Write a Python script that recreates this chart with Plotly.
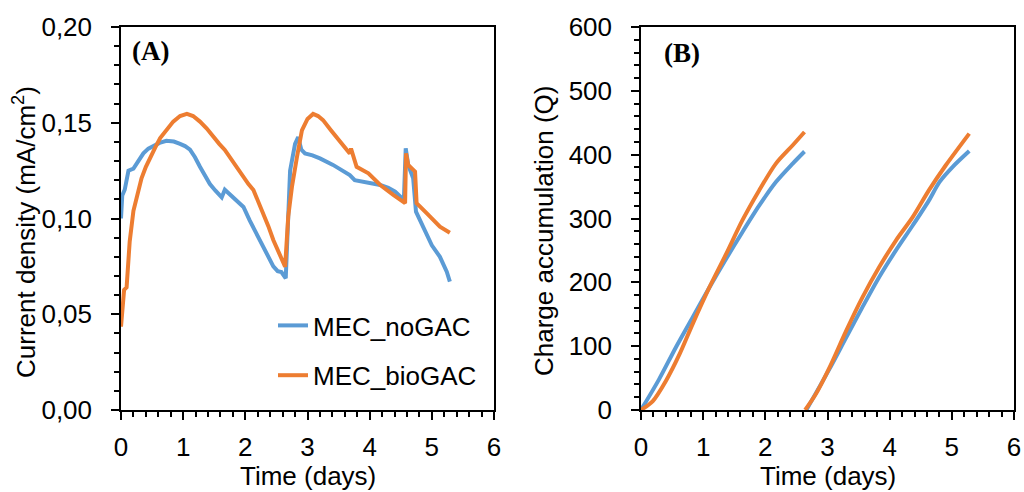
import plotly.graph_objects as go

# ---------------- Panel A: current density ----------------
tA_no = [0.0, 0.02, 0.06, 0.12, 0.2, 0.28, 0.36, 0.44, 0.52, 0.62, 0.73, 0.85, 0.95, 1.03, 1.11, 1.19,
         1.27, 1.35, 1.43, 1.52, 1.62, 1.67, 1.74, 1.81, 1.89, 1.97, 2.07, 2.18, 2.29, 2.37, 2.45,
         2.52, 2.58, 2.65, 2.72, 2.80, 2.85, 2.90, 2.96, 3.08, 3.2, 3.41, 3.55, 3.68, 3.76, 3.95,
         4.17, 4.30, 4.41, 4.55, 4.58, 4.62, 4.70, 4.745, 4.86, 5.0, 5.13, 5.24, 5.29]
jA_no = [0.100, 0.112, 0.115, 0.125, 0.126, 0.130, 0.134, 0.1365, 0.138, 0.1395, 0.1406, 0.1402,
         0.139, 0.1378, 0.136, 0.132, 0.127, 0.1225, 0.118, 0.1145, 0.111, 0.115, 0.113, 0.111,
         0.1085, 0.106, 0.099, 0.092, 0.085, 0.080, 0.075, 0.0725, 0.072, 0.0688, 0.125, 0.139,
         0.1425, 0.136, 0.134, 0.133, 0.1314, 0.128, 0.125, 0.1227, 0.120, 0.119, 0.1175, 0.116,
         0.114, 0.1097, 0.1366, 0.128, 0.121, 0.1036, 0.0957, 0.086, 0.080, 0.0722, 0.067]

tA_bio = [0.0, 0.05, 0.09, 0.14, 0.2, 0.27, 0.33, 0.40, 0.47, 0.55, 0.63, 0.73, 0.84, 0.95, 1.06, 1.16,
          1.27, 1.38, 1.48, 1.58, 1.67, 1.77, 1.86, 1.97, 2.05, 2.13, 2.21, 2.29, 2.37, 2.45, 2.55,
          2.64, 2.69, 2.75, 2.83, 2.91, 3.0, 3.09, 3.17, 3.25, 3.38, 3.50, 3.60, 3.68, 3.70, 3.79,
          3.98, 4.17, 4.38, 4.57, 4.585, 4.62, 4.73, 4.755, 4.92, 5.13, 5.29]
jA_bio = [0.0435, 0.0627, 0.064, 0.088, 0.104, 0.114, 0.121, 0.127, 0.132, 0.137, 0.142, 0.1465,
          0.1506, 0.1535, 0.1546, 0.1535, 0.1506, 0.147, 0.1427, 0.139, 0.1358, 0.131, 0.127,
          0.1218, 0.118, 0.1149, 0.109, 0.1027, 0.096, 0.0888, 0.081, 0.0748, 0.101, 0.1166,
          0.132, 0.146, 0.152, 0.1546, 0.1535, 0.1514, 0.146, 0.141, 0.137, 0.134, 0.1365, 0.127,
          0.1236, 0.1175, 0.1123, 0.108, 0.134, 0.128, 0.1245, 0.108, 0.1027, 0.0957, 0.0926]

# ---------------- Panel B: charge accumulation ----------------
tB_no = [0.0, 0.29, 0.56, 0.83, 1.10, 1.37, 1.63, 1.90, 2.17, 2.44, 2.63, None,
         2.66, 3.03, 3.30, 3.56, 3.83, 4.10, 4.37, 4.63, 4.80, 5.01, 5.28]
qB_no = [0, 48, 98, 145, 192, 237, 278.5, 320, 357, 386, 405, None,
         0, 64, 113.5, 160.7, 208, 250, 289, 328, 357, 380.6, 405.7]

tB_bio = [0.0, 0.19, 0.40, 0.62, 0.83, 1.10, 1.37, 1.63, 1.90, 2.17, 2.44, 2.63, None,
          2.64, 2.81, 3.03, 3.30, 3.56, 3.83, 4.10, 4.37, 4.63, 4.90, 5.28]
qB_bio = [0, 14, 45.5, 87.5, 134.6, 192, 244.5, 297, 344, 386, 414.7, 435.5, None,
          0, 24.6, 66, 124, 176, 223.5, 265.5, 302, 344, 383, 433]

names = ["MEC_noGAC", "MEC_bioGAC"]
colors = ["#5B9BD5", "#ED7D31"]

FONT = "Liberation Sans, Arial, sans-serif"
FS = 26
LW = 4

fig = go.Figure()
fig.add_trace(go.Scatter(x=tA_no, y=jA_no, mode="lines", name=names[0], legendgroup="a",
                         line=dict(color=colors[0], width=LW), xaxis="x", yaxis="y"))
fig.add_trace(go.Scatter(x=tA_bio, y=jA_bio, mode="lines", name=names[1], legendgroup="b",
                         line=dict(color=colors[1], width=LW), xaxis="x", yaxis="y"))
fig.add_trace(go.Scatter(x=tB_no, y=qB_no, mode="lines", name=names[0], showlegend=False,
                         line=dict(color=colors[0], width=LW, shape="spline", smoothing=0.8),
                         xaxis="x2", yaxis="y2"))
fig.add_trace(go.Scatter(x=tB_bio, y=qB_bio, mode="lines", name=names[1], showlegend=False,
                         line=dict(color=colors[1], width=LW, shape="spline", smoothing=0.8),
                         xaxis="x2", yaxis="y2"))

W, H = 1024, 492
dA = [121 / W, 494 / W]
dB = [641 / W, 1014 / W]
dy = [1 - 410 / H, 1 - 27 / H]

common = dict(showline=True, linecolor="black", linewidth=1.5, mirror=True,
              ticks="outside", ticklen=8, tickwidth=1.5, tickcolor="black",
              showgrid=False, zeroline=False, automargin=False,
              tickfont=dict(family=FONT, size=FS, color="black"))

fig.update_layout(
    width=W, height=H, margin=dict(l=0, r=0, t=0, b=0),
    paper_bgcolor="white", plot_bgcolor="white",
    separators=",.",
    xaxis=dict(domain=dA, range=[0, 6], dtick=1, anchor="y",
               minor=dict(dtick=0.2, ticks="outside", ticklen=5, tickwidth=1.5, tickcolor="black"),
               ticklabelstandoff=5, **common),
    yaxis=dict(domain=dy, range=[0, 0.2], dtick=0.05, tickformat=".2f", anchor="x",
               minor=dict(dtick=0.01, ticks="outside", ticklen=5, tickwidth=1.5, tickcolor="black"),
               ticklabelstandoff=14, **common),
    xaxis2=dict(domain=dB, range=[0, 6], dtick=1, anchor="y2",
                minor=dict(dtick=0.2, ticks="outside", ticklen=5, tickwidth=1.5, tickcolor="black"),
                ticklabelstandoff=5, **common),
    yaxis2=dict(domain=dy, range=[0, 600], dtick=100, anchor="x2",
                minor=dict(dtick=20, ticks="outside", ticklen=5, tickwidth=1.5, tickcolor="black"),
                ticklabelstandoff=14, **common),
    legend=dict(x=273 / W, y=1 - 302 / H, xanchor="left", yanchor="top",
                bgcolor="rgba(0,0,0,0)", font=dict(family=FONT, size=FS, color="black"),
                tracegroupgap=13),
    showlegend=True,
)

annots = [
    dict(text="Time (days)", x=307.5 / W, y=1 - 476 / H, xanchor="center", yanchor="middle"),
    dict(text="Time (days)", x=827.5 / W, y=1 - 476 / H, xanchor="center", yanchor="middle"),
    dict(text="Current density (mA/cm<sup>2</sup>)", x=24 / W, y=1 - 232 / H,
         xanchor="center", yanchor="middle", textangle=-90),
    dict(text="Charge accumulation (Q)", x=544 / W, y=1 - 231 / H,
         xanchor="center", yanchor="middle", textangle=-90),
]
for a in annots:
    fig.add_annotation(xref="paper", yref="paper", showarrow=False,
                       font=dict(family=FONT, size=FS, color="black"), **a)

for lab, xp, yp in [("<b>(A)</b>", 130, 51), ("<b>(B)</b>", 662, 53)]:
    fig.add_annotation(xref="paper", yref="paper", showarrow=False, text=lab,
                       x=xp / W, y=1 - yp / H, xanchor="left", yanchor="middle",
                       font=dict(family="Liberation Serif, Times New Roman, serif", size=27,
                                 color="black"))

fig.write_html("out.html", config={"displayModeBar": False},
               post_script="document.body.style.margin='0';")
